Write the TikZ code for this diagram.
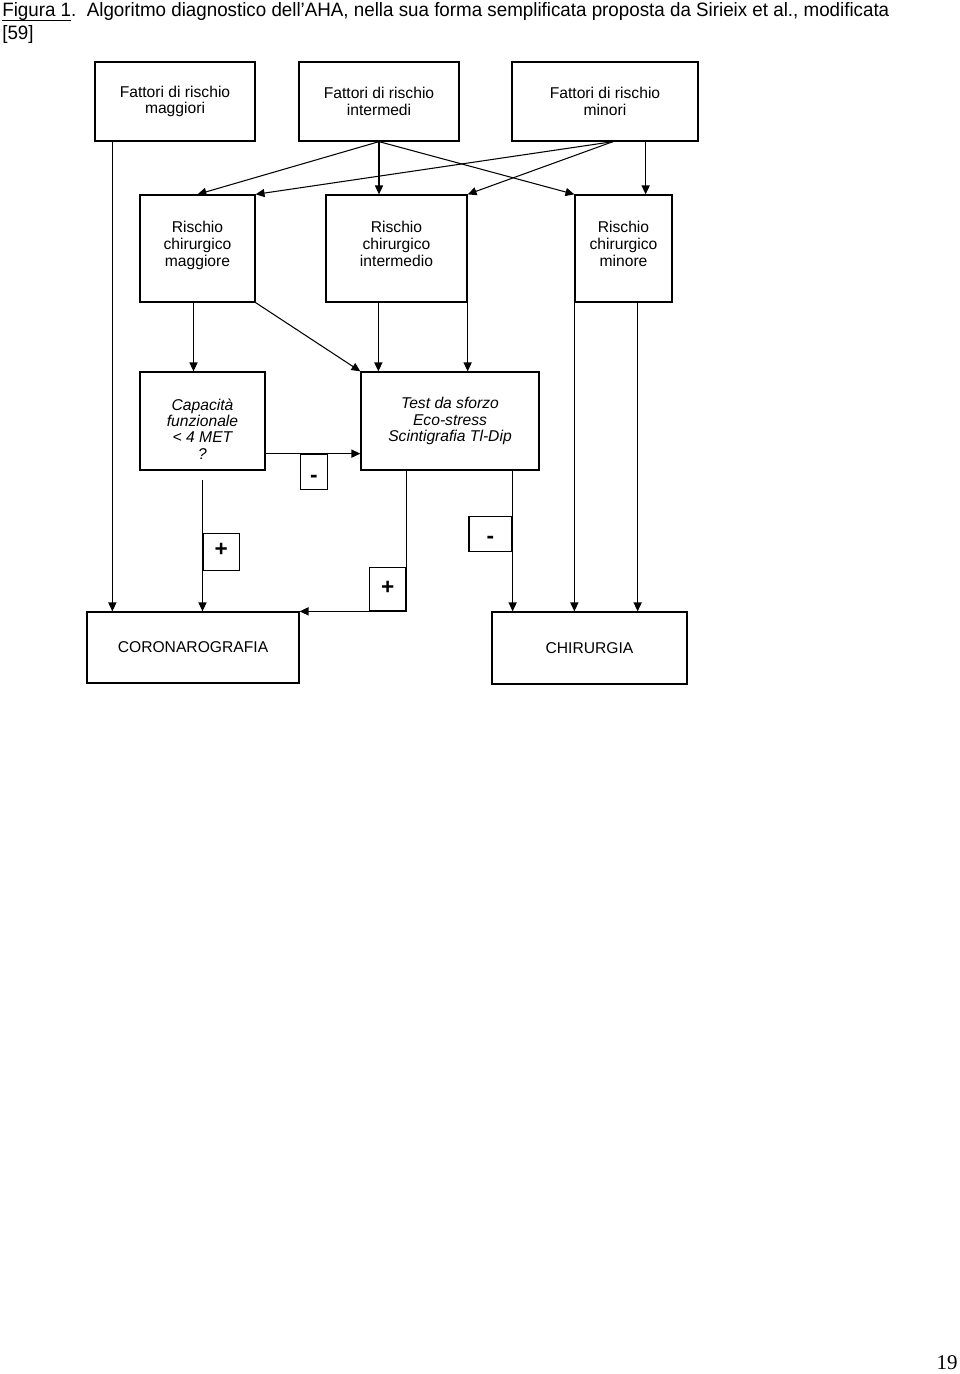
\documentclass[tikz,border=0pt]{standalone}
\usepackage{fontspec}
\setmainfont{Liberation Sans}
\newfontfamily\captionfont[FakeStretch=0.97]{Liberation Sans}
\newfontfamily\pagefont{Liberation Serif}
\usetikzlibrary{arrows.meta,calc}
\definecolor{boxline}{HTML}{000000}
\newcommand\capline[1]{\setbox0\hbox{#1}\rlap{\rule[-2.2pt]{\wd0}{0.6pt}}\box0}
\tikzset{
  box/.style={
    draw=boxline,
    line width=0.8pt,
    align=center,
    inner sep=0pt,
    font=\fontsize{9.7}{10.4}\selectfont
  },
  testbox/.style={
    box,
    font=\fontsize{9.7}{10.2}\selectfont\itshape
  },
  signbox/.style={
    draw=boxline,
    line width=0.8pt,
    inner sep=0pt,
    text height=9pt,
    text depth=3pt,
    font=\fontsize{14}{14}\selectfont\bfseries
  },
  boxsize/.style 2 args={
    minimum width=#1*0.62pt,
    minimum height=#2*0.62pt
  },
  arrow/.style={
    -{Triangle[length=5.5pt,width=5pt]},
    draw=boxline,
    line width=0.65pt
  },
  caption/.style={
    inner sep=0pt,
    font=\captionfont\fontsize{12}{14}\selectfont
  }
}

\begin{document}
\begin{tikzpicture}[x=0.62pt,y=-0.62pt]
  \useasboundingbox (0,0) rectangle (960,1374);

  % caption
  \node[caption, anchor=base west] (cap1) at (2,17)
    {\capline{Figura 1}.\ \ Algoritmo diagnostico dell’AHA, nella sua forma semplificata proposta da Sirieix et al., modificata};
  \node[caption, anchor=base west] (cap2) at (2,40) {[59]};

  % risk factors
  \node[box, boxsize={160}{79}] (fmagg) at (175,101.5)
    {Fattori di rischio\\maggiori};
  \node[box, boxsize={160}{79}] (finter) at (379,101.5)
    {Fattori di rischio\\intermedi};
  \node[box, boxsize={186}{79}] (fmin) at (605,101.5)
    {Fattori di rischio\\minori};

  % surgical risk
  \node[box, boxsize={115}{107}] (rmagg) at (197.5,248.5)
    {Rischio\\chirurgico\\maggiore\rule[-6pt]{0pt}{6pt}};
  \node[box, boxsize={141}{107}] (rinter) at (396.5,248.5)
    {Rischio\\chirurgico\\intermedio\rule[-6pt]{0pt}{6pt}};
  \node[box, boxsize={97}{107}] (rmin) at (623.5,248.5)
    {Rischio\\chirurgico\\minore\rule[-6pt]{0pt}{6pt}};

  % tests
  \node[testbox, boxsize={125}{98}] (capac) at (202.5,421)
    {\rule{0pt}{17pt}Capacità\\funzionale\\< 4 MET\\?};
  \node[testbox, boxsize={178}{98}] (stress) at (450,421)
    {Test da sforzo\\Eco-stress\\Scintigrafia Tl-Dip};

  % outcomes
  \node[box, boxsize={212}{71}] (coro) at (193,647.5) {CORONAROGRAFIA};
  \node[box, boxsize={195}{72}] (chir) at (589.5,648) {CHIRURGIA};

  % top row to middle row
  \draw[arrow] ($(fmagg.south west)+(18,0)$) -- ($(coro.north west)+(26,0)$);
  \draw[arrow] (finter.south) -- (rmagg.north);
  \draw[arrow] (finter.south) -- (finter.south |- rinter.north);
  \draw[arrow] (finter.south) -- (rmin.north west);
  \draw[arrow] ($(fmin.south)+(8,0)$) -- (rmagg.north east);
  \draw[arrow] ($(fmin.south)+(8,0)$) -- (rinter.north east);
  \draw[arrow] ($(fmin.south east)+(-53,0)$) -- ($(rmin.north east)+(-27,0)$);

  % middle row to tests
  \draw[arrow] ($(rmagg.south)+(-4,0)$) -- ($(capac.north)+(-9,0)$);
  \draw[arrow] (rmagg.south east) -- (stress.north west);
  \draw[arrow] ($(rinter.south west)+(53,0)$) -- ($(stress.north west)+(18,0)$);
  \draw[arrow] (rinter.south east) -- (rinter.south east |- stress.north);
  \draw[arrow] (rmin.south west) -- (rmin.south west |- chir.north);
  \draw[arrow] ($(rmin.south east)+(-35,0)$) -- ($(chir.north east)+(-50,0)$);

  % capacity to stress test
  \coordinate (capout) at ($(capac.south east)+(0,-17)$);
  \draw[arrow] (capout) -- (capout -| stress.west);
  \node[signbox, boxsize={27}{35}, anchor=north west] (neg1) at ($(capout)+(34,0)$) {\raisebox{-3.5pt}{-}};

  % capacity to coronarography
  \draw[arrow] ($(capac.south)+(0,9)$) -- (capac.south |- coro.north);
  \node[signbox, boxsize={36}{37}, anchor=north west] (pos1) at ($(capac.south)+(0,62)$) {+};

  % stress test to outcomes
  \coordinate (strleft) at ($(stress.south west)+(46,0)$);
  \draw[arrow] (strleft) |- (coro.north east);
  \node[signbox, boxsize={36}{43}, anchor=south east] (pos2) at (strleft |- coro.north) {+};
  \coordinate (strright) at ($(stress.south east)+(-27,0)$);
  \draw[arrow] (strright) -- (strright |- chir.north);
  \node[signbox, boxsize={43}{35}, anchor=north east] (neg2) at ($(strright)+(0,45)$) {\raisebox{-3pt}{-}};

  % page number
  \node[anchor=base east, inner sep=0pt, font=\pagefont\fontsize{13}{15}\selectfont] (pagenum) at (958,1369) {19};
\end{tikzpicture}
\end{document}
